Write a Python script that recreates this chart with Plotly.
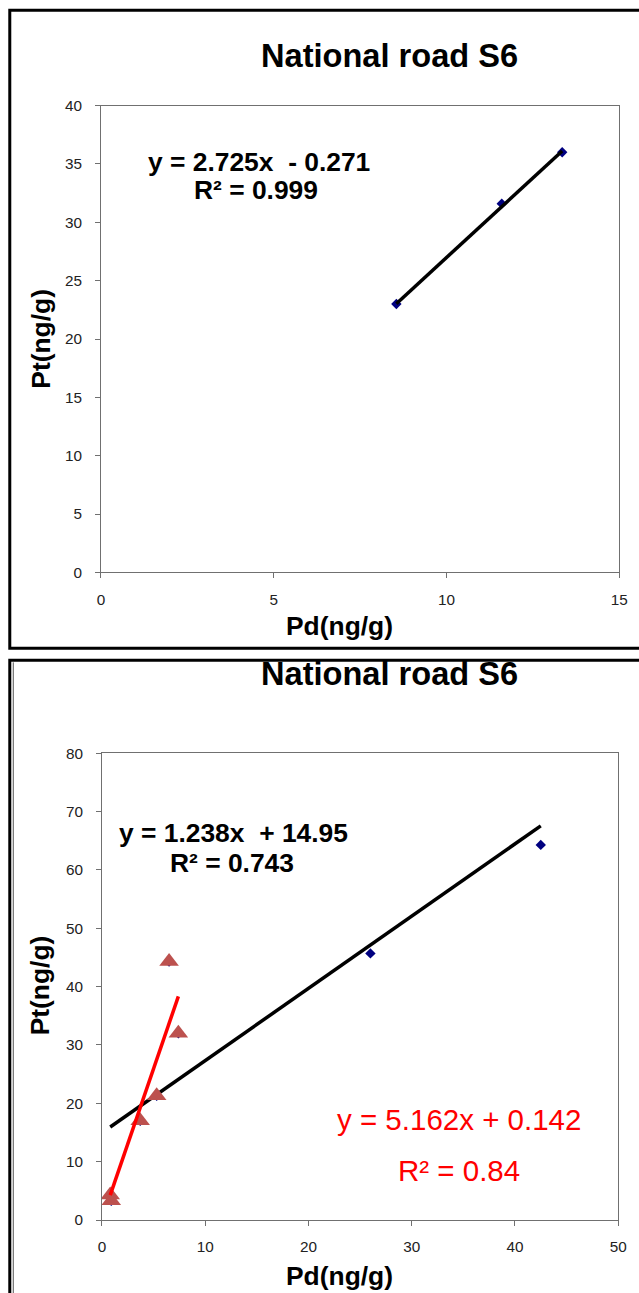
import numpy as np
import plotly.graph_objects as go

W, H = 639, 1293
# screen placement of the rendered figure (offset, scale) used to lay out
# everything in screen pixel terms
OX, OY = 3.7, 8.3
SX, SY = 0.983, 0.9874
FS = 1 / SX  # font compensation

# ---- data: upper panel (all samples) ----
pd_top = [8.55, 11.6, 13.35]
pt_top = [23.0, 31.6, 36.0]
fit_top = (2.725, -0.271)

# ---- data: lower panel ----
pd_low = [0.8, 0.9, 3.7, 5.3, 6.5, 7.4]
pt_low = [4.3, 3.3, 17.0, 21.3, 44.3, 32.0]
pd_high = [26.0, 42.5]
pt_high = [45.7, 64.3]
fit_all = (1.238, 14.95)
fit_low = (5.162, 0.142)

title_text = "National road S6"
x_title = "Pd(ng/g)"
y_title = "Pt(ng/g)"


def px(x):
    return ((x - OX) / SX) / W


def py(y):
    return 1 - ((y - OY) / SY) / H


def fs(size):
    return round(size * FS, 1)


def fit_line(xs, coef):
    xx = np.array([min(xs), max(xs)])
    return xx, coef[0] * xx + coef[1]


fig = go.Figure()

# upper panel
fig.add_trace(go.Scatter(x=pd_top, y=pt_top, mode="markers",
                         marker=dict(symbol="diamond", size=8, color="#000080"),
                         xaxis="x", yaxis="y", showlegend=False))
lx, ly = fit_line(pd_top, fit_top)
fig.add_trace(go.Scatter(x=lx, y=ly, mode="lines", line=dict(color="black", width=3.5),
                         xaxis="x", yaxis="y", showlegend=False))

# lower panel
pd_all = pd_low + pd_high
pt_all = pt_low + pt_high
fig.add_trace(go.Scatter(x=pd_all, y=pt_all, mode="markers",
                         marker=dict(symbol="diamond", size=8, color="#000080"),
                         xaxis="x2", yaxis="y2", showlegend=False))
lx, ly = fit_line(pd_all, fit_all)
fig.add_trace(go.Scatter(x=lx, y=ly, mode="lines", line=dict(color="black", width=3.5),
                         xaxis="x2", yaxis="y2", showlegend=False))
fig.add_trace(go.Scatter(x=pd_low, y=pt_low, mode="markers",
                         marker=dict(symbol="triangle-up", size=17, color="#BC514E"),
                         xaxis="x2", yaxis="y2", showlegend=False))
lx, ly = fit_line(pd_low, fit_low)
fig.add_trace(go.Scatter(x=lx, y=ly, mode="lines", line=dict(color="#FF0000", width=3.5),
                         xaxis="x2", yaxis="y2", showlegend=False))

axis_common = dict(showline=True, mirror=True, linecolor="#707070", linewidth=1,
                   ticks="outside", ticklen=5, tickcolor="#707070",
                   showgrid=False, zeroline=False,
                   tickfont=dict(family="Liberation Sans, Arial", size=fs(15), color="#222"))
xax = dict(ticklabelstandoff=8, **axis_common)
yax = dict(ticklabelstandoff=10, **axis_common)

fig.update_layout(
    width=W, height=H, autosize=False,
    margin=dict(l=0, r=0, t=0, b=0),
    paper_bgcolor="white", plot_bgcolor="white",
    xaxis=dict(domain=[px(101), px(621)], range=[0, 15], dtick=5, anchor="y", **xax),
    yaxis=dict(domain=[py(572), py(105)], range=[0, 40], dtick=5, anchor="x", **yax),
    xaxis2=dict(domain=[px(102), px(620)], range=[0, 50], dtick=10, anchor="y2", **xax),
    yaxis2=dict(domain=[py(1220), py(753)], range=[0, 80], dtick=10, anchor="x2", **yax),
)


def label(text, x, y, size, bold_font=True, color="black", xanchor="left", angle=0):
    t = f"<b>{text}</b>" if bold_font else text
    fig.add_annotation(text=t, x=px(x), y=py(y), xref="paper", yref="paper",
                       showarrow=False, xanchor=xanchor, yanchor="middle", textangle=angle,
                       font=dict(family="Liberation Sans, Arial", size=fs(size), color=color))


for y0 in (55, 673):
    label(title_text, 391, y0, 32, xanchor="center")
label(x_title, 340, 626, 26, xanchor="center")
label(x_title, 340, 1276, 26, xanchor="center")
label(y_title, 40, 338, 26, xanchor="center", angle=-90)
label(y_title, 40, 985, 26, xanchor="center", angle=-90)

label("y = 2.725x \u00a0- 0.271", 146, 161, 26)
label("R² = 0.999", 192, 189, 26)
label("y = 1.238x \u00a0+ 14.95", 117, 833, 26)
label("R² = 0.743", 168, 863, 26)
label("y = 5.162x + 0.142", 336, 1119, 29, bold_font=False, color="#FF0000")
label("R² = 0.84", 397, 1170, 29, bold_font=False, color="#FF0000")

# panel frames
fig.add_shape(type="rect", xref="paper", yref="paper",
              x0=px(9.5), x1=px(700), y0=py(648), y1=py(9.5),
              line=dict(color="black", width=3))
fig.add_shape(type="rect", xref="paper", yref="paper",
              x0=px(9.5), x1=px(700), y0=py(1400), y1=py(660),
              line=dict(color="black", width=3))
fig.add_shape(type="line", xref="paper", yref="paper",
              x0=px(13), x1=px(13), y0=py(1400), y1=py(662),
              line=dict(color="#555", width=1))

fig.write_html("out.html")
